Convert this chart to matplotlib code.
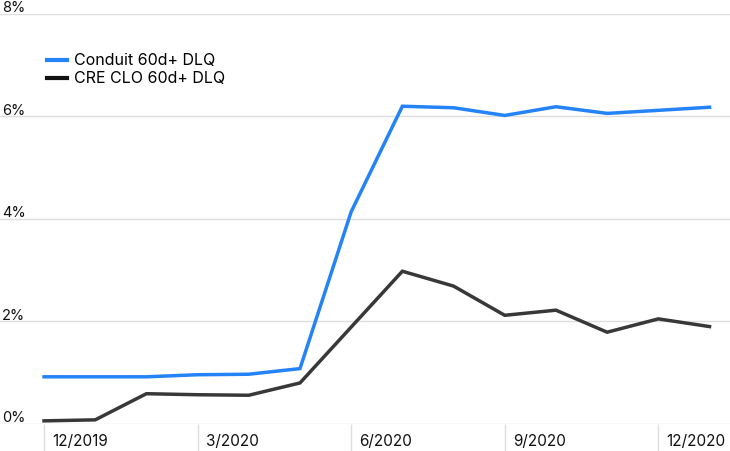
import matplotlib.pyplot as plt
import matplotlib.transforms as mtransforms

# Meses (12/2019 a 1/2021) e taxas de inadimplência 60d+ (%)
meses = ['12/2019', '1/2020', '2/2020', '3/2020', '4/2020', '5/2020', '6/2020',
         '7/2020', '8/2020', '9/2020', '10/2020', '11/2020', '12/2020', '1/2021']
conduit = [0.92, 0.92, 0.92, 0.96, 0.97, 1.08, 4.14, 6.20, 6.17, 6.02, 6.19, 6.06, 6.12, 6.18]
cre_clo = [0.06, 0.08, 0.59, 0.57, 0.56, 0.80, 1.89, 2.98, 2.69, 2.12, 2.22, 1.79, 2.05, 1.90]
rotulos_x = ['12/2019', '3/2020', '6/2020', '9/2020', '12/2020']
rotulos_y = [0, 2, 4, 6, 8]

plt.rcParams['font.family'] = ['Inter', 'DejaVu Sans']

fig = plt.figure(figsize=(7.3, 4.51), dpi=100)
ax = fig.add_axes([0, 0.06, 1, 0.909])

x = list(range(len(meses)))
ax.plot(x, conduit, color='#2483f7', lw=2.5, label='Conduit 60d+ DLQ', solid_joinstyle='miter')
ax.plot(x, cre_clo, color='#383838', lw=2.5, label='CRE CLO 60d+ DLQ', solid_joinstyle='miter')

ax.set_xlim(-0.86, 13.4)
ax.set_ylim(0, 8)

# Grade horizontal
ty = mtransforms.blended_transform_factory(ax.transAxes, ax.transData)
for v in rotulos_y:
    ax.axhline(v, color='#dddddd', lw=1, zorder=0)
    ax.text(0.003, v + 0.03, f'{v}%', transform=ty,
            ha='left', va='baseline', fontsize=10.5, color='#111111')

# Marcas e rótulos do eixo x
pos_ticks = [meses.index(m) for m in rotulos_x]
ax.set_xticks(pos_ticks)
ax.set_xticklabels([])
ax.tick_params(axis='x', length=27, width=1, color='#dddddd', direction='out')
ax.set_yticks([])
trans = mtransforms.blended_transform_factory(ax.transData, ax.transAxes) + \
    mtransforms.ScaledTranslation(8 / 100, 0, fig.dpi_scale_trans)
for p, r in zip(pos_ticks, rotulos_x):
    ax.text(p, -0.042, r, transform=trans, ha='left', va='center', fontsize=11, color='#111111')

for s in ax.spines.values():
    s.set_visible(False)

leg = ax.legend(loc='upper left', bbox_to_anchor=(0.055, 0.92), frameon=False, fontsize=11.5,
                handlelength=1.3, handletextpad=0.45, labelspacing=0.2, borderaxespad=0)
for h in leg.get_lines():
    h.set_linewidth(3)
leg.get_lines()[1].set_color('#111111')

fig.savefig('out.png', dpi=100)
